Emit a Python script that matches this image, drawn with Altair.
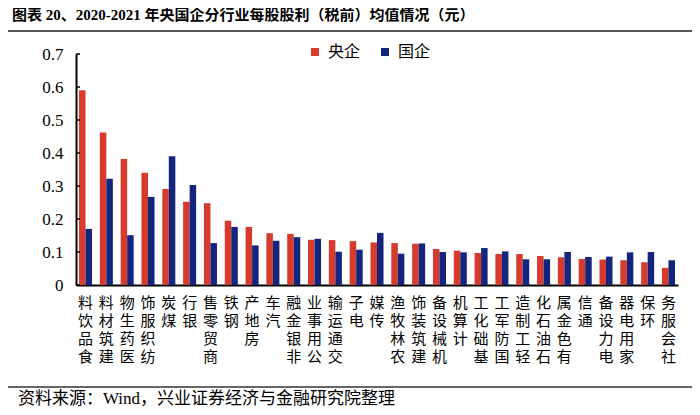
import altair as alt
import pandas as pd

categories = ["食品饮料", "建筑材料", "医药生物", "纺织服饰", "煤炭", "银行", "商贸零售", "钢铁",
              "房地产", "汽车", "非银金融", "公用事业", "交通运输", "电子", "传媒", "农林牧渔",
              "建筑装饰", "机械设备", "计算机", "基础化工", "国防军工", "轻工制造", "石油石化",
              "有色金属", "通信", "电力设备", "家用电器", "环保", "社会服务"]
central_soe = [0.590, 0.462, 0.382, 0.340, 0.291, 0.252, 0.248, 0.195, 0.176, 0.157,
               0.155, 0.137, 0.136, 0.133, 0.129, 0.127, 0.125, 0.109, 0.104, 0.097,
               0.094, 0.094, 0.088, 0.084, 0.079, 0.077, 0.075, 0.069, 0.052]
local_soe = [0.170, 0.322, 0.151, 0.267, 0.390, 0.303, 0.127, 0.176, 0.120, 0.134,
             0.145, 0.140, 0.101, 0.107, 0.158, 0.095, 0.126, 0.100, 0.099, 0.112,
             0.102, 0.078, 0.078, 0.100, 0.085, 0.086, 0.099, 0.100, 0.075]
series_names = ["央企", "国企"]
series_colors = ["#D63B2D", "#13257D"]
y_ticks = [0, 0.1, 0.2, 0.3, 0.4, 0.5, 0.6, 0.7]

title_text = "图表 20、2020-2021 年央国企分行业每股股利（税前）均值情况（元）"
source_text = "资料来源：Wind，兴业证券经济与金融研究院整理"

rows = []
for c, a, b in zip(categories, central_soe, local_soe):
    rows.append({"industry": c, "type": series_names[0], "value": a})
    rows.append({"industry": c, "type": series_names[1], "value": b})
df = pd.DataFrame(rows)

CJK = "Noto Sans CJK SC"
SERIF = "Liberation Serif"
MIX = "Liberation Serif, Noto Sans CJK SC"

y_enc = alt.Y(
    "value:Q",
    scale=alt.Scale(domain=[0, 0.7], nice=False, zero=True),
    axis=alt.Axis(title=None, values=y_ticks, format=".1~f", ticks=False, grid=False,
                  domainColor="black", domainWidth=2, labelFont=SERIF,
                  labelFontSize=17, labelColor="black", labelPadding=13,
                  labelOverlap=False, labelBound=False, labelFlush=False),
)

bars = alt.Chart(df).mark_bar(strokeWidth=0).encode(
    x=alt.X("industry:N", sort=categories,
            scale=alt.Scale(paddingInner=0.374, paddingOuter=0.145),
            axis=alt.Axis(title=None, labelAngle=0, ticks=False, domainColor="black",
                          domainWidth=2, labelExpr="reverse(split(datum.label, ''))",
                          labelFont=CJK, labelFontSize=15, labelLineHeight=18,
                          labelBaseline="top", labelAlign="center", labelPadding=10,
                          labelColor="black", labelOverlap=False)),
    xOffset=alt.XOffset("type:N", sort=series_names,
                        scale=alt.Scale(domain=series_names, paddingInner=0, paddingOuter=0)),
    y=y_enc,
    color=alt.Color("type:N",
                    scale=alt.Scale(domain=series_names, range=series_colors),
                    legend=alt.Legend(title=None, orient="none", legendX=231, legendY=-10,
                                      direction="horizontal", symbolType="square",
                                      symbolSize=64, symbolStrokeWidth=0, symbolOpacity=1,
                                      labelFont=CJK, labelFontSize=16, labelColor="black",
                                      columnPadding=16, labelOffset=5, padding=0)),
)

tick_marks = alt.Chart(pd.DataFrame({"value": y_ticks})).mark_rule(
    color="black", strokeWidth=1.5
).encode(y=y_enc, x=alt.value(0), x2=alt.value(4))

title = alt.Chart(pd.DataFrame({"t": [title_text]})).mark_text(
    align="left", baseline="middle", font=MIX, fontSize=15, fontWeight="bold", color="black"
).encode(text="t:N", x=alt.value(-64), y=alt.value(-39))

title_line = alt.Chart(pd.DataFrame({"t": [0]})).mark_rule(
    color="#555555", strokeWidth=2
).encode(x=alt.value(-68), x2=alt.value(620), y=alt.value(-23))

source = alt.Chart(pd.DataFrame({"t": [source_text]})).mark_text(
    align="left", baseline="middle", font=MIX, fontSize=17, color="black"
).encode(text="t:N", x=alt.value(-58), y=alt.value(345))

source_line = alt.Chart(pd.DataFrame({"t": [0]})).mark_rule(
    color="#666666", strokeWidth=2
).encode(x=alt.value(-68), x2=alt.value(620), y=alt.value(333))

chart = alt.layer(bars, tick_marks, title, title_line, source, source_line).properties(
    width=602, height=231,
    autosize=alt.AutoSizeParams(type="none"),
    padding={"left": 68, "top": 46, "right": 14, "bottom": 122},
).configure_view(stroke=None)

chart.save("out.html", embed_options={"renderer": "svg", "actions": False})
